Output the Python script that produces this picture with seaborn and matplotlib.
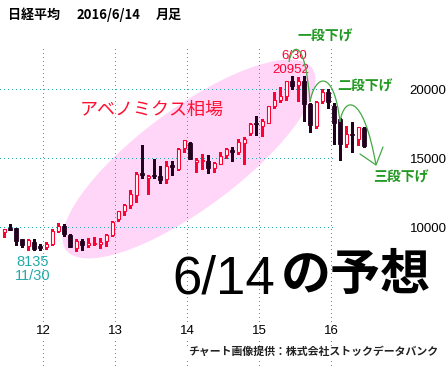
import numpy as np
import pandas as pd
import matplotlib
matplotlib.use("Agg")
import matplotlib.pyplot as plt
import matplotlib.transforms as mtrans
from matplotlib import font_manager as fm
from matplotlib.patches import Ellipse, PathPatch
from matplotlib.path import Path
import seaborn as sns

# ---------------- data (monthly Nikkei 225, Jun 2011 - Jun 2016) ----------------
months = list(pd.period_range("2011-06", "2016-06", freq="M").strftime("%Y-%m"))
opens = [9640, 9930, 9900, 9100, 8620, 8900, 8600,
         8549, 8800, 9700, 10100, 9450, 8500, 9000, 8700, 8800, 8800, 8950, 9450,
         10600, 11190, 11600, 12300, 13900, 13530, 13780, 13700, 13500, 14500, 14200, 15700,
         16100, 14700, 14800, 14800, 14300, 14600, 15200, 15600, 15400, 16100, 16800, 17500,
         17300, 17500, 18800, 19200, 19500, 20600, 20300, 20600, 18900, 17300, 19100, 19800,
         18800, 17800, 16000, 16700, 16400, 17200]
highs = [9880, 10210, 9960, 9150, 9150, 9130, 8800,
         8930, 9870, 10255, 10190, 9500, 9100, 9140, 9200, 9290, 9200, 9500, 10430,
         11190, 11660, 12650, 14000, 15942, 13800, 14953, 14400, 14817, 14800, 15700, 16320,
         16160, 14990, 15300, 15200, 14700, 15400, 15700, 15800, 16374, 16500, 17520, 18030,
         17850, 18800, 19778, 20133, 20600, 20952, 20850, 20946, 18950, 19100, 20012, 20012,
         18950, 17900, 17291, 17613, 17250, 17250]
lows = [9300, 9760, 8700, 8560, 8340, 8300, 8330,
        8380, 8720, 9650, 9380, 8540, 8238, 8330, 8580, 8670, 8500, 8620, 9380,
        10400, 10900, 11400, 11805, 13550, 12415, 13550, 13188, 13200, 13748, 14100, 15400,
        14900, 13995, 14203, 13885, 13964, 14600, 15000, 14753, 15300, 14529, 16700, 16672,
        16592, 17500, 18600, 19034, 19200, 20000, 19115, 17714, 16901, 17200, 19000, 18600,
        16017, 14865, 15800, 15471, 15975, 15800]
closes = [9850, 9800, 8950, 8700, 9050, 8434, 8455,
          8802, 9723, 10083, 9520, 8543, 9007, 8695, 8840, 8870, 8928, 9446, 10395,
          11138, 11559, 12397, 13860, 13774, 13677, 13668, 13388, 14455, 14327, 15661, 16291,
          14914, 14841, 14827, 14304, 14632, 15162, 15620, 15425, 16173, 16413, 17459, 17450,
          17674, 18797, 19206, 19520, 20563, 20235, 20585, 18890, 17388, 19083, 19747, 19033,
          17518, 16026, 16758, 16666, 17234, 15900]

year_labels = ["12", "13", "14", "15", "16"]
year_start_months = ["2012-01", "2013-01", "2014-01", "2015-01", "2016-01"]
price_ticks = [10000, 15000, 20000]
price_labels = ["10000", "15000", "20000"]
low_note = ["8135", "11/30"]
high_note = ["6/30", "20952"]

# ---------------- style ----------------
sns.set_theme(style="white")
plt.rcParams["font.family"] = ["Noto Sans CJK JP", "DejaVu Sans"]
_names = {f.name for f in fm.fontManager.ttflist}
NARROW = next((n for n in ["Liberation Sans Narrow", "Arial Narrow", "DejaVu Sans Condensed",
                           "Liberation Sans"] if n in _names), "DejaVu Sans")

W, H = 448, 369
fig = plt.figure(figsize=(W / 100, H / 100), dpi=100)
fig.patch.set_facecolor("white")
ax = fig.add_axes([0, 0, 1, 1])
ax.set_axis_off()

df = pd.DataFrame(dict(month=months, open=opens, high=highs, low=lows, close=closes))
df["x"] = np.arange(len(df))
df["up"] = df["close"] >= df["open"]

PX0, PXS = 4, 6            # pixel x of first candle, pixels per month
Y10, PPY = 227, 69 / 5000  # pixel y of 10000, pixels per yen
ax.set_xlim(-PX0 / PXS, (W - PX0) / PXS)
ax.set_ylim(10000 - (H - Y10) / PPY, 10000 + Y10 / PPY)


def px(x, y):
    """pixel (from top-left) -> data coords"""
    return (x - PX0) / PXS, 10000 + (Y10 - y) / PPY


def num_text(x, yc, s, size, color, ha="center", bbox=None, z=6):
    """narrow digits, vertically centred on the cap height at pixel yc"""
    cap = 0.72 * size * 100 / 72
    ax.text(*px(x, yc + cap / 2), s, family=NARROW, fontsize=size, color=color,
            ha=ha, va="baseline", zorder=z, bbox=bbox)


# ---------------- background ellipse ----------------
ell = Ellipse((189, H - 159), 306, 100, angle=36.5, transform=mtrans.IdentityTransform(),
              facecolor="#FFD6F7", edgecolor="none", zorder=0)
ax.add_patch(ell)

# ---------------- grid ----------------
GRID = "#1EAFAF"
xpos = {m: i for i, m in enumerate(months)}
vx = [xpos[m] - 0.5 for m in year_start_months]
ax.vlines(vx, px(0, H)[1], px(0, 48)[1], colors=GRID, linestyles=(0, (1, 3)),
          linewidth=0.72, antialiased=False, zorder=1)
ax.hlines(price_ticks, px(0, 0)[0], px(333, 0)[0], colors=GRID, linestyles=(0, (1, 3)),
          linewidth=0.72, antialiased=False, zorder=1)

# ---------------- candles ----------------
RED = "#FF0033"
DARK = "#22001E"
wick_colors = [RED if u else DARK for u in df["up"]]
ax.vlines(df["x"], df["low"], df["high"], colors=wick_colors, linewidth=0.9,
          antialiased=False, zorder=3)
min_h = 1 / PPY
body_bottom = np.minimum(df["open"], df["close"])
body_h = np.maximum(np.abs(df["close"] - df["open"]), min_h)
up = df["up"].values
ax.bar(df["x"][up], body_h[up], bottom=body_bottom[up], width=0.5,
       facecolor="white", edgecolor=RED, linewidth=0.8, zorder=4)
ax.bar(df["x"][~up], body_h[~up], bottom=body_bottom[~up], width=0.58,
       facecolor=DARK, edgecolor=DARK, linewidth=0.6, zorder=4)

# ---------------- axis labels ----------------
for p, lab in zip(price_ticks, price_labels):
    yc = Y10 - (p - 10000) * PPY
    num_text(428, yc, lab, 9.5, "black")
for x, lab in zip(vx, year_labels):
    num_text(PX0 + x * PXS, 329, lab, 9.5, "black",
             bbox=dict(facecolor="white", edgecolor="none", pad=1.5))

# ---------------- title ----------------
ax.text(*px(8, 15), "日経平均", fontsize=9.4, weight="bold", color="black", ha="left", va="center")
ax.text(*px(77, 15), "2016/6/14", fontsize=9.4, weight="bold", color="black", ha="left", va="center")
ax.text(*px(156, 15), "月足", fontsize=9.4, weight="bold", color="black", ha="left", va="center")

# ---------------- annotations ----------------
ax.text(*px(80, 110), "アベノミクス相場", fontsize=13, color="#FF1133", ha="left", va="center", zorder=5)
num_text(294, 54, high_note[0], 9.5, RED)
num_text(291, 68, high_note[1], 9.5, RED)
num_text(33, 261, low_note[0], 10.5, "#22AAAA")
num_text(33, 275, low_note[1], 10.5, "#22AAAA")

GREEN_T = "#229922"
GREEN_L = "#44AA44"
ax.text(*px(325, 37), "一段下げ", fontsize=10, weight="bold", color=GREEN_T, ha="center", va="center", zorder=6)
ax.text(*px(365, 87), "二段下げ", fontsize=10, weight="bold", color=GREEN_T, ha="center", va="center", zorder=6)
ax.text(*px(401, 178), "三段下げ", fontsize=10, weight="bold", color=GREEN_T, ha="center", va="center", zorder=6)

arcs = [
    [(289, 62), (292, 44), (305, 36), (310, 102)],
    [(310, 102), (315, 74), (334, 68), (340, 122)],
    [(340, 122), (344, 96), (363, 92), (376, 165)],
]
for a in arcs:
    verts = [px(*p) for p in a]
    path = Path(verts, [Path.MOVETO, Path.CURVE4, Path.CURVE4, Path.CURVE4])
    ax.add_patch(PathPatch(path, facecolor="none", edgecolor=GREEN_L, linewidth=0.9, zorder=6))
head = [px(360, 154), px(376, 165), px(383, 147)]
ax.plot([h[0] for h in head], [h[1] for h in head], color=GREEN_L, linewidth=0.9, zorder=6)

# ---------------- big text & credit ----------------
ax.text(*px(172, 293), "6/14", family=NARROW, fontsize=38, color="black",
        ha="left", va="baseline", zorder=7)
ax.text(*px(281, 290), "の予想", fontsize=36, weight="bold", color="black",
        ha="left", va="baseline", zorder=7)
ax.text(*px(188, 352), "チャート画像提供：株式会社ストックデータバンク", fontsize=7.85,
        weight="bold", color="#222222", ha="left", va="center", zorder=7,
        bbox=dict(facecolor="white", edgecolor="none", pad=0.5))

fig.savefig("out.png", dpi=100, facecolor="white")
